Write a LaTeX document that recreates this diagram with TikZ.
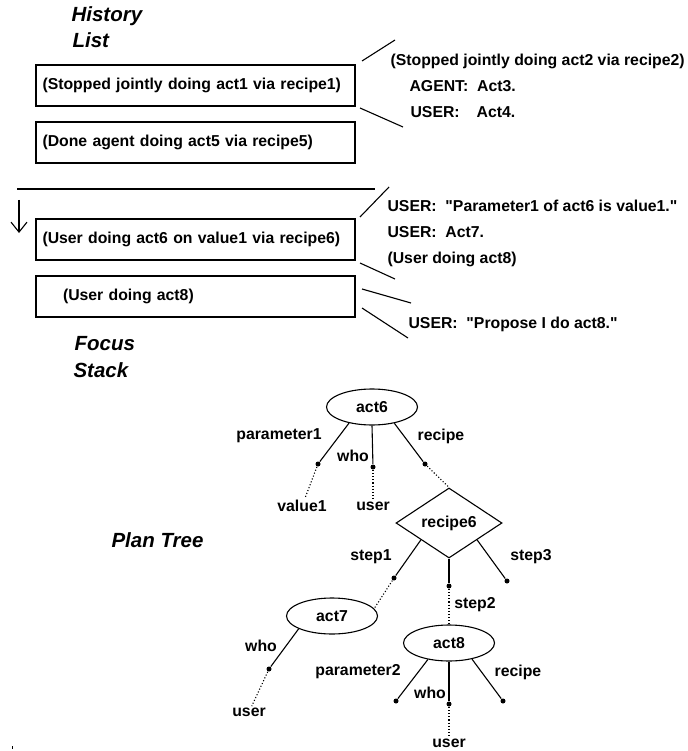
\documentclass[tikz,border=0pt]{standalone}
\usepackage{fontspec}
\setmainfont{Liberation Sans}
\usetikzlibrary{shapes.geometric,arrows.meta}
\begin{document}
\begin{tikzpicture}[x=1pt, y=-1pt, line width=1.1pt,
    lbl/.style={font=\bfseries\fontsize{15.8}{18}\selectfont, inner sep=1pt},
    ttl/.style={font=\bfseries\itshape\fontsize{20.5}{24}\selectfont, anchor=base west, inner sep=0pt},
    box/.style={draw, lbl, minimum width=319pt, minimum height=41pt, text width=306pt, inner xsep=6.5pt, align=left},
    act/.style={draw, ellipse, lbl, minimum width=91pt, minimum height=36pt, inner sep=0pt},
    dot/.style={circle, fill, inner sep=0pt, minimum size=5pt}]
    \useasboundingbox (0,0) rectangle (687,751);
    % history list
    \node[ttl] (hist) at (71,22) {History};
    \node[ttl] (list) at (72,48) {List};
    \node[box] (hist1) at (195.5,85.5) {(Stopped jointly doing act1 via recipe1)};
    \node[box] (hist2) at (195.5,142.5) {(Done agent doing act5 via recipe5)};
    \draw (362,61) -- (395,40);
    \draw (360,108) -- (403,127);
    \node[lbl, anchor=west] (seg2) at (389,61) {(Stopped jointly doing act2 via recipe2)};
    \node[lbl, anchor=west] (agent3) at (408,86) {AGENT:\ \ Act3.};
    \node[lbl, anchor=west] (user4) at (409,112) {USER:\hspace{17pt}Act4.};
    % focus stack
    \draw (17,189) -- (375,189);
    \draw[-{Straight Barb[length=10pt,width=16pt]}] (19,200) -- (19,233);
    \node[box] (focus1) at (195.5,239.5) {(User doing act6 on value1 via recipe6)};
    \node[box] (focus2) at (195.5,296.5) {\hspace*{20.5pt}(User doing act8)};
    \draw (360,217) -- (389,187);
    \draw (360,263) -- (395,279);
    \draw (362,289) -- (411,303);
    \draw (362,308) -- (408,338);
    \node[lbl, anchor=west] (utt1) at (386,206) {USER:\ \ \textquotedbl Parameter1 of act6 is value1.\textquotedbl};
    \node[lbl, anchor=west] (utt2) at (386,232) {USER:\ \ Act7.};
    \node[lbl, anchor=west] (seg8) at (386,259) {(User doing act8)};
    \node[lbl, anchor=west] (utt3) at (407,324) {USER:\ \ \textquotedbl Propose I do act8.\textquotedbl};
    \node[ttl] (focus) at (74,350) {Focus};
    \node[ttl] (stack) at (73,377) {Stack};
    % plan tree
    \node[ttl] (plan) at (111,547) {Plan Tree};
    \node[act] (act6) at (372,407) {act6};
    \node[draw, diamond, lbl, minimum width=106pt, minimum height=52pt, inner sep=0pt] (recipe6) at (449,523) {recipe6};
    \node[act] (act7) at (332,616) {act7};
    \node[act] (act8) at (449,643) {act8};
    \node[dot] (p1) at (318,464) {};
    \node[dot] (w6) at (373,467) {};
    \node[dot] (r6) at (425,464) {};
    \node[dot] (s1) at (394,578) {};
    \node[dot] (s2) at (449,586) {};
    \node[dot] (s3) at (507,581) {};
    \node[dot] (w7) at (269,669) {};
    \node[dot] (p2) at (396,701) {};
    \node[dot] (w8) at (449,704) {};
    \node[dot] (r8) at (503,701) {};
    \node[lbl] (val1) at (302,506) {value1};
    \node[lbl] (user6) at (373,506) {user};
    \node[lbl] (user7) at (249,712) {user};
    \node[lbl] (user8) at (449,743.5) {user};
    \node[lbl] (lp1) at (279,436) {parameter1};
    \node[lbl] (lw6) at (353,456) {who};
    \node[lbl] (lr6) at (441,436) {recipe};
    \node[lbl] (ls1) at (371,557) {step1};
    \node[lbl] (ls2) at (475,605) {step2};
    \node[lbl] (ls3) at (531,557) {step3};
    \node[lbl] (lw7) at (261,646) {who};
    \node[lbl] (lp2) at (358,672) {parameter2};
    \node[lbl] (lw8) at (430,693) {who};
    \node[lbl] (lr8) at (518,672) {recipe};
    \draw (act6.215) -- (p1);
    \draw (act6.south) -- (w6);
    \draw (act6.324) -- (r6);
    \draw (recipe6.211) -- (s1);
    \draw (recipe6.south) -- (s2);
    \draw (recipe6.329) -- (s3);
    \draw (act7.201) -- (w7);
    \draw (act8.218) -- (p2);
    \draw (act8.south) -- (w8);
    \draw (act8.325) -- (r8);
    \draw[dotted] (p1) -- (val1);
    \draw[dotted] (w6) -- (user6);
    \draw[dotted] (r6) -- (recipe6.north);
    \draw[dotted] (s1) -- (act7.10);
    \draw[dotted] (s2) -- (act8.north);
    \draw[dotted] (w7) -- (user7);
    \draw[dotted] (w8) -- (user8);
    \fill (11.5,745.5) rectangle (12.5,749); % stray mark
\end{tikzpicture}
\end{document}
